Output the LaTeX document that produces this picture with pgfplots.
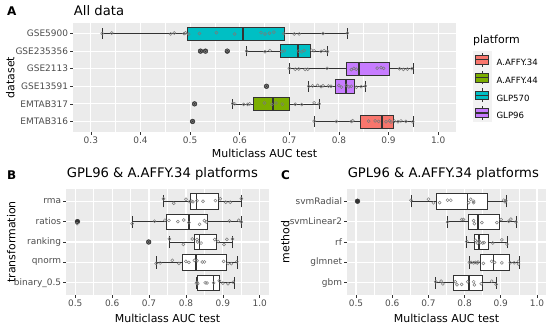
\documentclass[border=0pt]{standalone}
\usepackage{fontspec}
\setmainfont{DejaVu Sans}
\usepackage{pgfplots}
\pgfplotsset{compat=1.18}
\usepgfplotslibrary{statistics}
\definecolor{g20}{HTML}{333333}
\definecolor{g30}{HTML}{4D4D4D}
\definecolor{g92}{HTML}{EBEBEB}
\definecolor{g95}{HTML}{F2F2F2}
\definecolor{ggred}{HTML}{F8766D}
\definecolor{gggreen}{HTML}{7CAE00}
\definecolor{ggcyan}{HTML}{00BFC4}
\definecolor{ggpurple}{HTML}{C77CFF}
\definecolor{ptgray}{HTML}{7A7A7A}
\pgfplotsset{
  ggaxis/.style={
    scale only axis,
    axis background/.style={fill=g92},
    axis line style={draw=none},
    tick pos=left,
    tick align=outside,
    major tick length=2.75bp,
    minor tick length=0pt,
    tick style={g20, line width=0.6bp},
    xmajorgrids, ymajorgrids, xminorgrids,
    minor x tick num=1,
    major grid style={white, line width=1.1bp},
    minor grid style={white, line width=0.55bp},
    ticklabel style={font=\fontsize{9}{10}\selectfont, text=g30},
    xticklabel style={inner sep=1.5bp},
    yticklabel style={inner sep=2bp},
    /pgf/number format/fixed,
    /pgf/number format/fixed zerofill,
    /pgf/number format/precision=1,
    /pgf/number format/assume math mode=true,
    xlabel={Multiclass AUC test},
    label style={font=\fontsize{11}{13}\selectfont, text=black},
    every axis title/.style={anchor=west, inner sep=0pt, font=\fontsize{13.2}{15}\selectfont},
    /pgfplots/boxplot/draw direction=x,
    /pgfplots/boxplot/every median/.style={line width=1.6bp},
  },
  bx/.style={forget plot, draw=g20, line width=0.6bp, /pgfplots/boxplot/box extend=0.75, /pgfplots/boxplot/every box/.style={fill=#1, draw=g20}},
  pts/.style={forget plot, only marks, mark=o, mark size=1.5bp, draw=ptgray, mark options={line width=0.5bp}},
  outl/.style={forget plot, only marks, mark=*, mark size=2.4bp, color=g20},
  ggkey/.style={legend image code/.code={
    \fill[g95] (0bp,-5.15bp) rectangle (17.3bp,12.15bp);
    \draw[g20, line width=0.6bp] (8.65bp,-3.4bp) -- (8.65bp,-0.82bp) (8.65bp,7.82bp) -- (8.65bp,10.4bp);
    \draw[g20, line width=0.6bp, fill=#1] (2.16bp,-0.82bp) rectangle (15.14bp,7.82bp);
    \draw[g20, line width=1.3bp] (2.16bp,3.5bp) -- (15.14bp,3.5bp);
    \path (23bp,0bp);
  }},
}
\begin{document}
\begin{tikzpicture}
\useasboundingbox (0,0) rectangle (550bp,327bp);
% ---------------- Panel A ----------------
\begin{axis}[ggaxis,
  at={(73bp,195bp)}, anchor=south west,
  width=383bp, height=109bp,
  xmin=0.264, xmax=1.036,
  xtick={0.3,0.4,0.5,0.6,0.7,0.8,0.9,1.0},
  ymin=0.4, ymax=6.6,
  ytick={1,2,3,4,5,6},
  yticklabels={EMTAB316,EMTAB317,GSE13591,GSE2113,GSE235356,GSE5900},
  ylabel={dataset},
  ylabel style={at={(axis description cs:-0.164,0.5)}, anchor=center},
  xlabel style={at={(axis description cs:0.5,-0.193)}, anchor=center},
  title={All data},
  title style={at={(axis description cs:0.002,1.11)}},
  legend style={at={(axis description cs:1.0444,0.745)}, anchor=north west, draw=none, fill=none, inner sep=0pt, row sep=0pt, nodes={inner sep=0pt}, font=\fontsize{8.6}{10}\selectfont},
  legend cell align=left,
]
% GSE5900
\addplot[bx=ggcyan, boxplot prepared={draw position=6, lower whisker=0.323, lower quartile=0.495, median=0.607, upper quartile=0.690, upper whisker=0.817}] coordinates {};
\addplot[pts] coordinates {(0.323,6.0) (0.342,6.03) (0.461,5.98) (0.468,6.03) (0.488,6.0) (0.491,6.04) (0.497,5.97) (0.519,6.0) (0.553,6.05) (0.590,5.97) (0.643,6.05) (0.651,5.98) (0.660,6.02) (0.669,6.08) (0.689,6.0) (0.710,5.97) (0.720,5.98) (0.768,6.0) (0.817,6.02)};
% GSE235356
\addplot[bx=ggcyan, boxplot prepared={draw position=5, lower whisker=0.614, lower quartile=0.682, median=0.717, upper quartile=0.742, upper whisker=0.777}] coordinates {};
\addplot[outl] coordinates {(0.521,5) (0.531,5) (0.575,5)};
\addplot[pts] coordinates {(0.521,5.0) (0.531,4.98) (0.575,5.02) (0.614,5.0) (0.651,4.96) (0.661,5.03) (0.685,4.98) (0.690,5.02) (0.718,5.0) (0.725,4.97) (0.730,5.03) (0.745,5.05) (0.750,5.02) (0.764,4.99) (0.770,5.03) (0.777,4.98)};
% GSE2113
\addplot[bx=ggpurple, boxplot prepared={draw position=4, lower whisker=0.700, lower quartile=0.814, median=0.840, upper quartile=0.901, upper whisker=0.950}] coordinates {};
\addplot[pts] coordinates {(0.700,4.02) (0.712,3.97) (0.719,3.98) (0.732,3.96) (0.737,3.97) (0.776,4.02) (0.825,3.95) (0.830,4.02) (0.835,3.97) (0.877,4.03) (0.885,4.06) (0.890,4.02) (0.922,4.0) (0.930,3.96) (0.938,3.98) (0.947,4.01)};
% GSE13591
\addplot[bx=ggpurple, boxplot prepared={draw position=3, lower whisker=0.739, lower quartile=0.793, median=0.814, upper quartile=0.830, upper whisker=0.853}] coordinates {};
\addplot[outl] coordinates {(0.654,3)};
\addplot[pts] coordinates {(0.654,3.0) (0.739,3.0) (0.747,3.02) (0.757,3.05) (0.764,2.98) (0.768,3.03) (0.779,3.02) (0.784,3.0) (0.800,3.05) (0.805,2.95) (0.815,3.05) (0.820,2.97) (0.825,3.0) (0.835,2.95) (0.845,2.98) (0.853,3.02)};
% EMTAB317
\addplot[bx=gggreen, boxplot prepared={draw position=2, lower whisker=0.586, lower quartile=0.628, median=0.667, upper quartile=0.699, upper whisker=0.760}] coordinates {};
\addplot[outl] coordinates {(0.509,2)};
\addplot[pts] coordinates {(0.509,2.0) (0.586,2.02) (0.590,2.0) (0.608,1.97) (0.616,1.97) (0.620,2.0) (0.650,2.05) (0.665,1.97) (0.673,2.05) (0.686,1.98) (0.712,1.98) (0.725,1.96) (0.750,2.06) (0.760,2.0)};
% EMTAB316
\addplot[bx=ggred, boxplot prepared={draw position=1, lower whisker=0.750, lower quartile=0.844, median=0.887, upper quartile=0.909, upper whisker=0.950}] coordinates {};
\addplot[outl] coordinates {(0.505,1)};
\addplot[pts] coordinates {(0.505,1.0) (0.750,1.02) (0.795,1.0) (0.825,1.0) (0.828,1.04) (0.860,1.02) (0.873,1.03) (0.880,1.0) (0.895,0.98) (0.902,1.04) (0.905,0.97) (0.912,1.02) (0.919,0.98) (0.925,1.03) (0.935,1.0) (0.949,0.98)};
\addlegendimage{ggkey=ggred}\addlegendentry{A.AFFY.34}
\addlegendimage{ggkey=gggreen}\addlegendentry{A.AFFY.44}
\addlegendimage{ggkey=ggcyan}\addlegendentry{GLP570}
\addlegendimage{ggkey=ggpurple}\addlegendentry{GLP96}
\end{axis}
\node[anchor=west, inner sep=0pt, font=\fontsize{11}{13}\selectfont] at (473bp,287bp) {platform};
\node[anchor=west, inner sep=0pt, font=\bfseries\fontsize{12}{14}\selectfont] at (7bp,316bp) {A};
% ---------------- Panel B ----------------
\begin{axis}[ggaxis,
  at={(66bp,32bp)}, anchor=south west,
  width=203bp, height=106bp,
  xmin=0.475, xmax=1.025,
  xtick={0.5,0.6,0.7,0.8,0.9,1.0},
  ymin=0.4, ymax=5.6,
  ytick={1,2,3,4,5},
  yticklabels={binary\_0.5,qnorm,ranking,ratios,rma},
  ylabel={transformation},
  ylabel style={at={(axis description cs:-0.27,0.5)}, anchor=center},
  xlabel style={at={(axis description cs:0.5,-0.224)}, anchor=center},
  title={GPL96 \& A.AFFY.34 platforms},
  title style={at={(axis description cs:0.003,1.1415)}},
]
\addplot[bx=white, boxplot prepared={draw position=5, lower whisker=0.739, lower quartile=0.8125, median=0.829, upper quartile=0.887, upper whisker=0.950}] coordinates {};
\addplot[pts] coordinates {(0.739,5.12) (0.767,4.9) (0.800,5.1) (0.810,4.98) (0.816,5.0) (0.819,4.97) (0.830,5.02) (0.846,5.0) (0.880,5.03) (0.893,5.12) (0.908,4.95) (0.920,4.95) (0.950,5.13)};
\addplot[bx=white, boxplot prepared={draw position=4, lower whisker=0.654, lower quartile=0.747, median=0.808, upper quartile=0.857, upper whisker=0.950}] coordinates {};
\addplot[outl] coordinates {(0.506,4)};
\addplot[pts] coordinates {(0.505,3.9) (0.654,3.9) (0.715,4.02) (0.743,4.07) (0.754,4.06) (0.778,4.0) (0.794,4.08) (0.808,3.95) (0.837,3.87) (0.850,4.05) (0.855,3.98) (0.918,4.03) (0.943,4.07) (0.950,3.98)};
\addplot[bx=white, boxplot prepared={draw position=3, lower whisker=0.755, lower quartile=0.822, median=0.837, upper quartile=0.882, upper whisker=0.926}] coordinates {};
\addplot[outl] coordinates {(0.699,3)};
\addplot[pts] coordinates {(0.699,3.0) (0.755,3.15) (0.793,2.88) (0.817,3.15) (0.830,3.12) (0.832,3.0) (0.841,2.95) (0.878,3.12) (0.887,3.02) (0.903,2.88) (0.911,3.13) (0.926,3.15)};
\addplot[bx=white, boxplot prepared={draw position=2, lower whisker=0.719, lower quartile=0.790, median=0.828, upper quartile=0.908, upper whisker=0.938}] coordinates {};
\addplot[pts] coordinates {(0.719,1.95) (0.730,1.97) (0.763,2.1) (0.781,1.95) (0.800,2.05) (0.808,2.0) (0.823,2.1) (0.830,2.08) (0.844,2.02) (0.850,2.02) (0.902,2.05) (0.914,1.95) (0.923,1.94) (0.938,2.03)};
\addplot[bx=white, boxplot prepared={draw position=1, lower whisker=0.828, lower quartile=0.830, median=0.875, upper quartile=0.891, upper whisker=0.932}] coordinates {};
\addplot[pts] coordinates {(0.828,0.98) (0.830,1.02) (0.832,0.95) (0.852,1.0) (0.857,0.99) (0.875,1.0) (0.890,1.1) (0.900,0.98) (0.914,0.95) (0.928,1.03)};
\end{axis}
\node[anchor=west, inner sep=0pt, font=\bfseries\fontsize{12}{14}\selectfont] at (7bp,151.5bp) {B};
% ---------------- Panel C ----------------
\begin{axis}[ggaxis,
  at={(347bp,32bp)}, anchor=south west,
  width=199bp, height=106bp,
  xmin=0.475, xmax=1.025,
  xtick={0.5,0.6,0.7,0.8,0.9,1.0},
  ymin=0.4, ymax=5.6,
  ytick={1,2,3,4,5},
  yticklabels={gbm,glmnet,rf,svmLinear2,svmRadial},
  ylabel={method},
  ylabel style={at={(axis description cs:-0.31,0.5)}, anchor=center},
  xlabel style={at={(axis description cs:0.5,-0.224)}, anchor=center},
  title={GPL96 \& A.AFFY.34 platforms},
  title style={at={(axis description cs:0.003,1.1415)}},
]
\addplot[bx=white, boxplot prepared={draw position=5, lower whisker=0.652, lower quartile=0.723, median=0.808, upper quartile=0.863, upper whisker=0.914}] coordinates {};
\addplot[outl] coordinates {(0.504,5)};
\addplot[pts] coordinates {(0.652,5.05) (0.700,5.1) (0.714,4.92) (0.731,4.93) (0.753,5.05) (0.762,5.05) (0.811,4.93) (0.817,5.1) (0.825,5.0) (0.825,4.93) (0.908,5.05) (0.912,4.97) (0.914,5.02)};
\addplot[bx=white, boxplot prepared={draw position=4, lower whisker=0.753, lower quartile=0.811, median=0.837, upper quartile=0.897, upper whisker=0.942}] coordinates {};
\addplot[pts] coordinates {(0.753,3.98) (0.792,4.1) (0.797,4.1) (0.825,4.05) (0.827,3.9) (0.848,3.95) (0.889,3.95) (0.901,4.1) (0.922,4.02) (0.928,4.12) (0.942,3.98)};
\addplot[bx=white, boxplot prepared={draw position=3, lower whisker=0.806, lower quartile=0.828, median=0.839, upper quartile=0.866, upper whisker=0.917}] coordinates {};
\addplot[pts] coordinates {(0.806,3.02) (0.830,3.08) (0.835,2.95) (0.840,3.05) (0.843,2.97) (0.850,2.95) (0.854,2.97) (0.878,2.95) (0.903,3.1) (0.917,2.9)};
\addplot[bx=white, boxplot prepared={draw position=2, lower whisker=0.813, lower quartile=0.843, median=0.880, upper quartile=0.924, upper whisker=0.951}] coordinates {};
\addplot[pts] coordinates {(0.813,2.0) (0.818,2.0) (0.825,1.98) (0.830,2.0) (0.835,1.97) (0.837,2.02) (0.852,1.95) (0.875,2.05) (0.883,2.0) (0.903,1.98) (0.926,1.98) (0.937,1.98) (0.949,1.92) (0.949,2.05)};
\addplot[bx=white, boxplot prepared={draw position=1, lower whisker=0.720, lower quartile=0.769, median=0.813, upper quartile=0.848, upper whisker=0.887}] coordinates {};
\addplot[pts] coordinates {(0.720,1.05) (0.735,1.08) (0.740,0.95) (0.774,1.05) (0.779,0.9) (0.792,0.92) (0.809,1.05) (0.825,1.05) (0.827,0.9) (0.846,0.95) (0.875,1.08) (0.887,0.92)};
\end{axis}
\node[anchor=west, inner sep=0pt, font=\bfseries\fontsize{12}{14}\selectfont] at (281bp,151.5bp) {C};
\end{tikzpicture}
\end{document}
